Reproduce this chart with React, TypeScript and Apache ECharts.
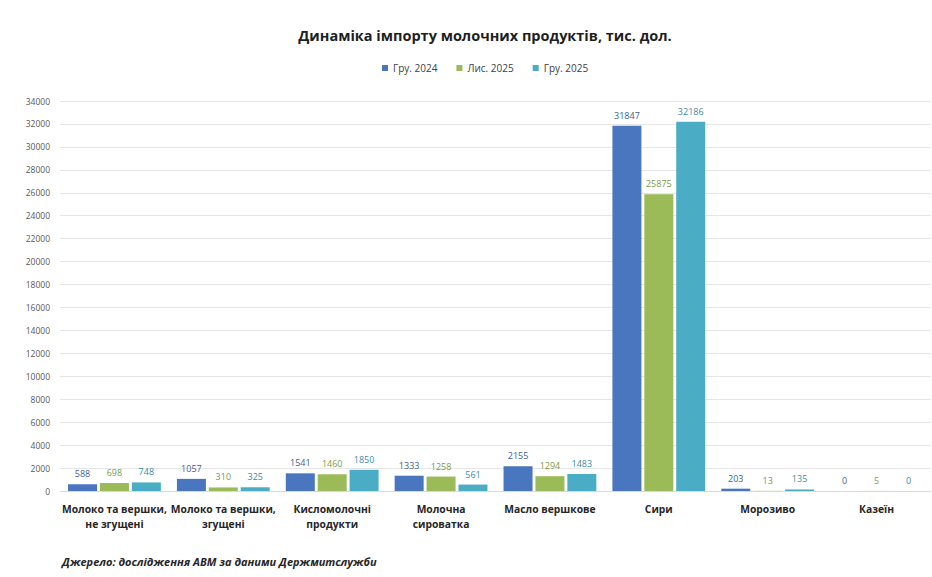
import React, { useEffect, useRef } from "react";
import * as echarts from "echarts";

const categories = [
  "Молоко та вершки,\nне згущені",
  "Молоко та вершки,\nзгущені",
  "Кисломолочні\nпродукти",
  "Молочна\nсироватка",
  "Масло вершкове",
  "Сири",
  "Морозиво",
  "Казеїн",
];
const seriesNames = ["Гру. 2024", "Лис. 2025", "Гру. 2025"];
const dec2024 = [588, 1057, 1541, 1333, 2155, 31847, 203, 0];
const nov2025 = [698, 310, 1460, 1258, 1294, 25875, 13, 5];
const dec2025 = [748, 325, 1850, 561, 1483, 32186, 135, 0];
const yTicks = { min: 0, max: 34000, interval: 2000 };

const colors = ["#4a76c0", "#9bbb59", "#4bacc6"];
const labelColors = ["#3e5f94", "#7f9a45", "#3a8ea4"];
const FONT = "'Open Sans', 'Noto Sans', sans-serif";

export default function App() {
  const ref = useRef<HTMLDivElement>(null);
  useEffect(() => {
    if (!ref.current) return;
    const chart = echarts.init(ref.current, undefined, { renderer: "svg" });
    const data = [dec2024, nov2025, dec2025];
    chart.setOption({
      animation: false,
      backgroundColor: "#ffffff",
      textStyle: { fontFamily: FONT },
      title: {
        text: "Динаміка імпорту молочних продуктів, тис. дол.",
        left: 480,
        textAlign: "center",
        top: 23,
        textStyle: { fontSize: 14.5, fontWeight: "bold", color: "#1f1f1f", fontFamily: FONT },
      },
      legend: {
        data: seriesNames,
        left: 377,
        top: 58,
        itemWidth: 6,
        itemHeight: 6,
        itemGap: 19,
        icon: "rect",
        textStyle: { fontSize: 10, color: "#404040", fontFamily: FONT },
      },
      grid: { left: 60, right: 1, top: 101, bottom: 86, containLabel: false },
      xAxis: {
        type: "category",
        data: categories,
        axisTick: { show: false },
        axisLine: { lineStyle: { color: "#d9d9d9" } },
        axisLabel: {
          interval: 0,
          margin: 10,
          fontSize: 10.3,
          fontWeight: "bold",
          color: "#262626",
          lineHeight: 15,
          fontFamily: FONT,
        },
      },
      yAxis: {
        type: "value",
        min: yTicks.min,
        max: yTicks.max,
        interval: yTicks.interval,
        axisLine: { show: false },
        axisTick: { show: false },
        splitLine: { lineStyle: { color: "#e6e6e6" } },
        axisLabel: {
          fontSize: 8.5,
          color: "#595959",
          margin: 10,
          fontFamily: FONT,
          formatter: (v: number) => String(v),
        },
      },
      series: seriesNames.map((name, i) => ({
        name,
        type: "bar",
        data: data[i],
        barWidth: 29,
        barGap: "10%",
        itemStyle: { color: colors[i] },
        label: {
          show: true,
          position: "top",
          distance: 6,
          fontSize: 9,
          color: labelColors[i],
          fontFamily: FONT,
        },
      })),
      graphic: [
        {
          type: "text",
          left: 62,
          top: 556,
          style: {
            text: "Джерело: дослідження АВМ за даними Держмитслужби",
            fontSize: 11,
            fontWeight: "bold",
            fontStyle: "italic",
            fill: "#262626",
            fontFamily: FONT,
          },
        },
      ],
    });
    return () => chart.dispose();
  }, []);
  return (
    <div
      ref={ref}
      style={{ position: "fixed", left: 0, top: 0, width: 932, height: 577 }}
    />
  );
}
